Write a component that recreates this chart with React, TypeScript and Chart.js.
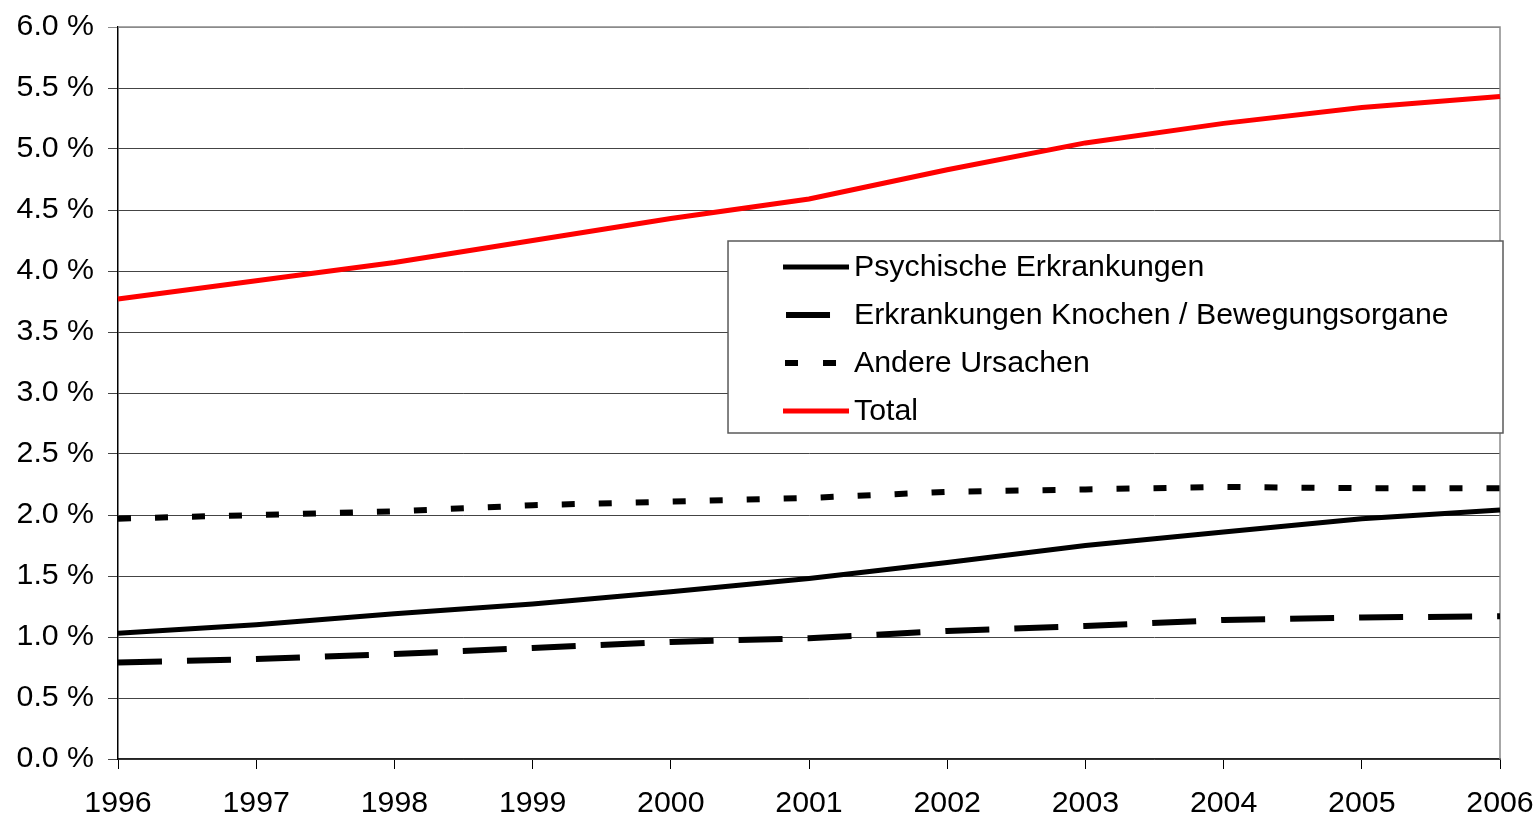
import React, { useEffect, useRef } from 'react';
import { Chart, registerables } from 'chart.js';

Chart.register(...registerables);

const years = ['1996', '1997', '1998', '1999', '2000', '2001', '2002', '2003', '2004', '2005', '2006'];
const psychische = [1.03, 1.10, 1.19, 1.27, 1.37, 1.48, 1.61, 1.75, 1.86, 1.97, 2.04];
const knochen = [0.79, 0.82, 0.86, 0.91, 0.96, 0.99, 1.05, 1.09, 1.14, 1.16, 1.17];
const andere = [1.97, 2.00, 2.03, 2.08, 2.11, 2.14, 2.19, 2.21, 2.23, 2.22, 2.22];
const total = [3.77, 3.92, 4.07, 4.25, 4.43, 4.59, 4.83, 5.05, 5.21, 5.34, 5.43];
const seriesNames = ['Psychische Erkrankungen', 'Erkrankungen Knochen / Bewegungsorgane', 'Andere Ursachen', 'Total'];

const FONT = "'Liberation Sans', Arial, sans-serif";
const FONT_SIZE = 30.3;

const framePlugin = {
  id: 'frame',
  beforeDatasetsDraw(chart: any) {
    const { ctx, chartArea } = chart;
    ctx.save();
    ctx.strokeStyle = '#8a8a8a';
    ctx.lineWidth = 1.5;
    ctx.beginPath();
    ctx.moveTo(chartArea.left, chartArea.top);
    ctx.lineTo(chartArea.right, chartArea.top);
    ctx.lineTo(chartArea.right, chartArea.bottom);
    ctx.stroke();
    ctx.restore();
  },
};

const legendPlugin = {
  id: 'customLegend',
  afterDraw(chart: any) {
    const { ctx, chartArea } = chart;
    const w = chartArea.right - chartArea.left;
    const x0 = chartArea.left + w * 0.4414;
    const x1 = chartArea.right + 3;
    const y0 = 241;
    const y1 = 433;
    ctx.save();
    ctx.fillStyle = '#ffffff';
    ctx.fillRect(x0, y0, x1 - x0, y1 - y0);
    ctx.strokeStyle = '#5a5a5a';
    ctx.lineWidth = 1.5;
    ctx.strokeRect(x0, y0, x1 - x0, y1 - y0);
    const rowY0 = y0 + 26;
    const rowH = 48;
    const sx0 = x0 + 55;
    const sx1 = x0 + 121;
    ctx.font = `${FONT_SIZE}px ${FONT}`;
    ctx.textBaseline = 'middle';
    ctx.textAlign = 'left';
    chart.data.datasets.forEach((ds: any, i: number) => {
      const y = rowY0 + i * rowH;
      ctx.beginPath();
      ctx.strokeStyle = ds.borderColor;
      ctx.lineWidth = ds.borderWidth;
      ctx.lineCap = 'butt';
      if (i === 1) {
        ctx.setLineDash([]);
        ctx.moveTo(sx0 + 3, y);
        ctx.lineTo(sx0 + 47, y);
      } else if (i === 2) {
        ctx.setLineDash([13, 25]);
        ctx.moveTo(sx0 + 2, y);
        ctx.lineTo(sx0 + 53, y);
      } else {
        ctx.setLineDash([]);
        ctx.moveTo(sx0, y);
        ctx.lineTo(sx1, y);
      }
      ctx.stroke();
      ctx.setLineDash([]);
      ctx.fillStyle = '#000000';
      ctx.fillText(ds.label, sx1 + 5, y + 1);
    });
    ctx.restore();
  },
};

export default function App() {
  const ref = useRef<HTMLCanvasElement | null>(null);
  useEffect(() => {
    if (!ref.current) return;
    const chart = new Chart(ref.current, {
      type: 'line',
      data: {
        labels: years,
        datasets: [
          { label: seriesNames[0], data: psychische, borderColor: '#000000', borderWidth: 5, pointRadius: 0, tension: 0, borderCapStyle: 'butt' },
          { label: seriesNames[1], data: knochen, borderColor: '#000000', borderWidth: 6, borderDash: [44, 25], pointRadius: 0, tension: 0, borderCapStyle: 'butt' },
          { label: seriesNames[2], data: andere, borderColor: '#000000', borderWidth: 6, borderDash: [13, 24], pointRadius: 0, tension: 0, borderCapStyle: 'butt' },
          { label: seriesNames[3], data: total, borderColor: '#ff0000', borderWidth: 5, pointRadius: 0, tension: 0, borderCapStyle: 'butt' },
        ],
      },
      options: {
        responsive: false,
        animation: false,
        devicePixelRatio: 1,
        layout: { padding: { left: 0, right: 39, top: 27, bottom: 0 } },
        plugins: { legend: { display: false }, tooltip: { enabled: false } },
        scales: {
          x: {
            type: 'category',
            offset: false,
            afterFit: (s: any) => { s.height = 58; s.paddingLeft = 0; s.paddingRight = 0; },
            grid: { drawOnChartArea: false, drawTicks: true, tickLength: 10, color: '#000000', lineWidth: 1 },
            border: { display: true, color: '#222222', width: 1.5 },
            ticks: { color: '#000000', font: { family: FONT, size: FONT_SIZE }, padding: 16, maxRotation: 0, autoSkip: false },
          },
          y: {
            min: 0,
            max: 6,
            afterFit: (s: any) => { s.width = 118; s.paddingTop = 0; s.paddingBottom = 0; },
            grid: {
              color: (c: any) => (c.tick && c.tick.value === 6 ? '#8a8a8a' : '#444444'),
              lineWidth: 1,
              tickLength: 10,
              drawTicks: true,
            },
            border: { display: true, color: '#000000', width: 1.5 },
            ticks: {
              stepSize: 0.5,
              color: '#000000',
              font: { family: FONT, size: FONT_SIZE },
              padding: 14,
              callback: (v: any) => Number(v).toFixed(1) + ' %',
            },
          },
        },
      },
      plugins: [framePlugin, legendPlugin],
    } as any);
    return () => chart.destroy();
  }, []);
  return (
    <div style={{ position: 'fixed', left: 0, top: 0, width: 1539, height: 817, background: '#fff' }}>
      <canvas ref={ref} width={1539} height={817} style={{ width: 1539, height: 817, display: 'block' }} />
    </div>
  );
}
